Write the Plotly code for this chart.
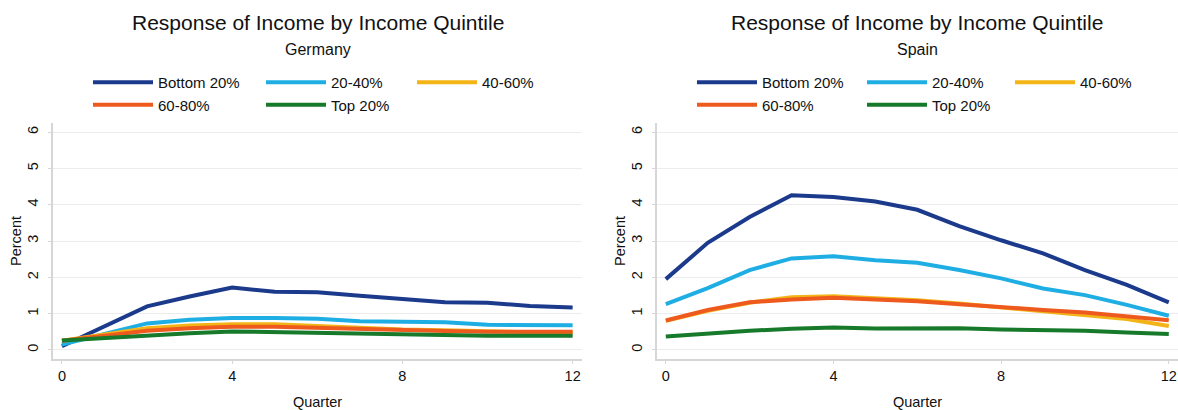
import plotly.graph_objects as go

quarters = list(range(13))
series_names = ["Bottom 20%", "20-40%", "40-60%", "60-80%", "Top 20%"]
colors = ["#1b3a8c", "#1faee3", "#f3b417", "#ee5a1e", "#177a2b"]

germany_bottom = [0.10, 0.65, 1.20, 1.47, 1.72, 1.60, 1.59, 1.49, 1.39, 1.31, 1.30, 1.21, 1.17]
germany_20_40 = [0.15, 0.45, 0.73, 0.83, 0.88, 0.88, 0.86, 0.79, 0.77, 0.76, 0.69, 0.69, 0.68]
germany_40_60 = [0.25, 0.42, 0.60, 0.67, 0.71, 0.71, 0.66, 0.60, 0.56, 0.54, 0.51, 0.49, 0.48]
germany_60_80 = [0.25, 0.39, 0.53, 0.60, 0.64, 0.64, 0.61, 0.56, 0.53, 0.52, 0.50, 0.50, 0.50]
germany_top = [0.26, 0.33, 0.41, 0.46, 0.51, 0.49, 0.46, 0.44, 0.41, 0.41, 0.39, 0.39, 0.39]

spain_bottom = [1.95, 2.95, 3.66, 4.26, 4.21, 4.09, 3.86, 3.41, 3.02, 2.66, 2.20, 1.79, 1.31]
spain_20_40 = [1.26, 1.70, 2.20, 2.52, 2.58, 2.47, 2.40, 2.20, 1.97, 1.69, 1.51, 1.24, 0.94]
spain_40_60 = [0.80, 1.08, 1.30, 1.45, 1.48, 1.42, 1.37, 1.28, 1.17, 1.08, 0.97, 0.85, 0.66]
spain_60_80 = [0.81, 1.10, 1.31, 1.39, 1.44, 1.40, 1.34, 1.26, 1.17, 1.10, 1.03, 0.93, 0.82]
spain_top = [0.37, 0.46, 0.53, 0.58, 0.62, 0.59, 0.60, 0.60, 0.56, 0.55, 0.53, 0.48, 0.44]

main_title = "Response of Income by Income Quintile"
countries = ["Germany", "Spain"]
x_ticks = [0, 4, 8, 12]
y_ticks = [0, 1, 2, 3, 4, 5, 6]

panels = [
    [germany_bottom, germany_20_40, germany_40_60, germany_60_80, germany_top],
    [spain_bottom, spain_20_40, spain_40_60, spain_60_80, spain_top],
]

FONT = "Liberation Sans, Arial, sans-serif"
W, H = 1178, 410


def px_x(xr):
    return xr / W


def px_y(yr):
    return 1 - yr / H


x_domains = [[px_x(53), px_x(582)], [px_x(657), 1.0]]
y_domain = [px_y(359), px_y(123)]

# legend column assignment per series (col index)
col_of = [0, 1, 2, 0, 1]
legend_x_px = [[88, 261, 412], [692, 862, 1010]]

fig = go.Figure()
legend_layouts = {}
for p, series in enumerate(panels):
    xa = "x" if p == 0 else "x2"
    ya = "y" if p == 0 else "y2"
    for i, vals in enumerate(series):
        lg_idx = p * 3 + col_of[i] + 1
        lg_name = "legend" if lg_idx == 1 else f"legend{lg_idx}"
        fig.add_trace(go.Scatter(
            x=quarters, y=vals, mode="lines", name=series_names[i],
            line=dict(color=colors[i], width=4),
            xaxis=xa, yaxis=ya, legend=lg_name, hoverinfo="skip",
        ))
    for c in range(3):
        lg_idx = p * 3 + c + 1
        lg_name = "legend" if lg_idx == 1 else f"legend{lg_idx}"
        legend_layouts[lg_name] = dict(
            x=px_x(legend_x_px[p][c]), xanchor="left",
            y=px_y(66), yanchor="top",
            orientation="v", bgcolor="rgba(0,0,0,0)",
            font=dict(family=FONT, size=15, color="#111111"),
            itemwidth=60, tracegroupgap=0, itemclick=False,
        )

axis_common = dict(
    showline=True, linecolor="#d6d6d6", linewidth=1.5,
    ticks="outside", tickcolor="#d6d6d6", ticklen=3,
    zeroline=False, mirror=False,
    tickfont=dict(family=FONT, size=14.5, color="#111111"),
)

fig.update_layout(
    width=W, height=H,
    margin=dict(l=0, r=0, t=0, b=0),
    paper_bgcolor="white", plot_bgcolor="white",
    font=dict(family=FONT, color="#111111"),
    **legend_layouts,
)

for p in range(2):
    sx = "" if p == 0 else "2"
    fig.update_layout(**{
        f"xaxis{sx}": dict(
            domain=x_domains[p], range=[-0.21, 12.22],
            tickvals=x_ticks, showgrid=False, ticklabeloverflow="allow",
            anchor=f"y{sx}",
            title=dict(text="Quarter", font=dict(family=FONT, size=14.5, color="#111111"), standoff=15),
            **axis_common,
        ),
        f"yaxis{sx}": dict(
            domain=y_domain, range=[-0.25, 6.25],
            tickvals=y_ticks, tickangle=-90, ticklabelstandoff=4,
            showgrid=True, gridcolor="#ececec", gridwidth=1,
            anchor=f"x{sx}",
            title=dict(text="Percent", font=dict(family=FONT, size=14.5, color="#111111"), standoff=0),
            **axis_common,
        ),
    })
    cx = (x_domains[p][0] + x_domains[p][1]) / 2
    fig.add_annotation(
        x=cx, y=px_y(22), xref="paper", yref="paper",
        text=main_title, showarrow=False, xanchor="center", yanchor="middle",
        font=dict(family=FONT, size=21, color="#111111"),
    )
    fig.add_annotation(
        x=cx, y=px_y(49), xref="paper", yref="paper",
        text=countries[p], showarrow=False, xanchor="center", yanchor="middle",
        font=dict(family=FONT, size=16, color="#111111"),
    )

fig.write_html(
    "out.html",
    config={"displayModeBar": False},
    post_script="document.body.style.margin='0';document.body.style.overflow='hidden';",
)
